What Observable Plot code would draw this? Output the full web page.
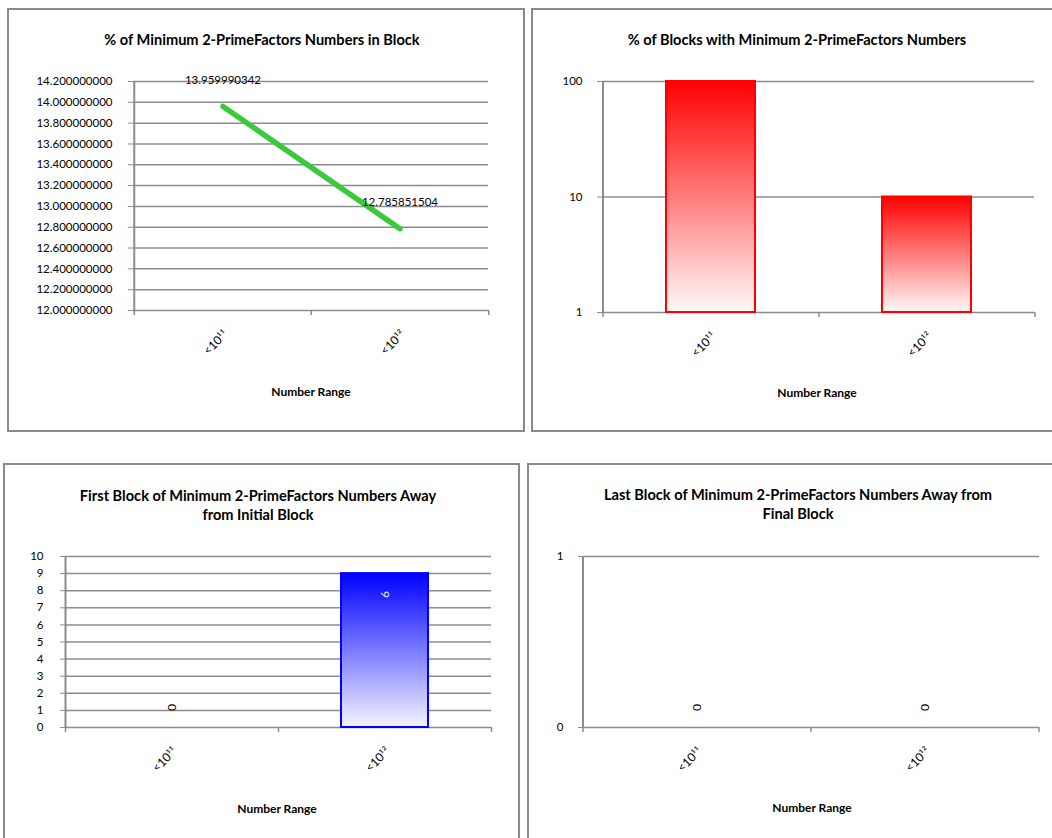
<!DOCTYPE html>
<html><head><meta charset="utf-8">
<script src="https://cdn.jsdelivr.net/npm/d3@7"></script>
<script src="https://cdn.jsdelivr.net/npm/@observablehq/plot@0.6"></script>
<style>
body{margin:0;background:#fff;font-family:Lato,"Open Sans",sans-serif;}
#root{position:relative;width:1052px;height:838px;overflow:hidden;background:#fff;}
.box{position:absolute;border:2.5px solid #8a8a8a;box-sizing:border-box;}
.title{position:absolute;font-weight:bold;font-size:14.6px;text-align:center;transform:translate(-50%,-50%);white-space:nowrap;line-height:19px;color:#000;}
.xlab{position:absolute;font-weight:bold;font-size:12px;transform:translate(-50%,-50%);white-space:nowrap;color:#000;}
.plot{position:absolute;}
</style></head><body><div id="root"></div>
<script>
// ---- data ----
const categories = ["<10¹¹", "<10¹²"];
const pctNumbersInBlock = [13.959990342, 12.785851504];
const pctBlocksWith = [100, 10];
const firstBlockAway = [0, 9];
const lastBlockAway = [0, 0];
const ticks1 = [12.0, 12.2, 12.4, 12.6, 12.8, 13.0, 13.2, 13.4, 13.6, 13.8, 14.0, 14.2];
const ticks2 = [1, 10, 100];
const ticks3 = [0, 1, 2, 3, 4, 5, 6, 7, 8, 9, 10];
const ticks4 = [0, 1];
const titles = [
  ["% of Minimum 2-PrimeFactors Numbers in Block"],
  ["% of Blocks with Minimum 2-PrimeFactors Numbers"],
  ["First Block of Minimum 2-PrimeFactors Numbers Away", "from Initial Block"],
  ["Last Block of Minimum 2-PrimeFactors Numbers Away from", "Final Block"]
];
const xTitle = "Number Range";

// ---- style ----
const GRID = "#8c8c8c";
const root = document.getElementById("root");

function box(l, t, w, h) {
  const d = document.createElement("div");
  d.className = "box";
  Object.assign(d.style, {left: l + "px", top: t + "px", width: w + "px", height: h + "px"});
  root.appendChild(d);
}
function label(cls, lines, cx, cy) {
  const d = document.createElement("div");
  d.className = cls;
  d.innerHTML = lines.join("<br>");
  Object.assign(d.style, {left: cx + "px", top: cy + "px"});
  root.appendChild(d);
}
function place(svg, l, t) {
  svg.classList.add("plot");
  svg.style.left = l + "px";
  svg.style.top = t + "px";
  root.appendChild(svg);
}
function addGradient(svg, id, color, end) {
  d3.select(svg).insert("defs", ":first-child").html(
    `<linearGradient id="${id}" x1="0" y1="0" x2="0" y2="1">
       <stop offset="0" stop-color="${color}"/>
       <stop offset="1" stop-color="${end}"/>
     </linearGradient>`);
}
const baseStyle = {fontFamily: "Lato, 'Open Sans', sans-serif", fontSize: "11.5px", color: "#000", background: "transparent", overflow: "visible"};

function frameMarks(bw, plotH) {
  return [
    Plot.tickX([categories[0]], {x: d => d, dx: -bw / 2, stroke: GRID, strokeWidth: 2}),
    Plot.tickX(categories, {x: d => d, dx: -bw / 2, insetTop: plotH, insetBottom: -5, stroke: GRID, strokeWidth: 1.5}),
    Plot.tickX([categories[categories.length - 1]], {x: d => d, dx: bw / 2, insetTop: plotH, insetBottom: -5, stroke: GRID, strokeWidth: 1.5})
  ];
}
function xAxis() {
  return Plot.axisX({tickRotate: -45, tickSize: 0, tickPadding: 22, dx: 3, label: null, fill: "#000", fontSize: 12});
}

// borders
box(7, 8, 518, 424);
box(531, 8, 540, 424);
box(3, 463, 517, 400);
box(527, 463, 540, 400);

// ---- Panel 1: line ----
{
  const W = 530, H = 440, ml = 133, mr = 42, mt = 81, mb = 130;
  const bw = (W - ml - mr) / categories.length, plotH = H - mt - mb;
  const data = categories.map((c, i) => ({cat: c, value: pctNumbersInBlock[i]}));
  const svg = Plot.plot({
    width: W, height: H, marginLeft: ml, marginRight: mr, marginTop: mt, marginBottom: mb,
    style: baseStyle,
    x: {type: "band", domain: categories, padding: 0},
    y: {domain: [12, 14.2]},
    marks: [
      Plot.ruleY(ticks1, {stroke: GRID, strokeWidth: 1.5}),
      ...frameMarks(bw, plotH),
      Plot.axisY({ticks: ticks1, tickFormat: d => d.toFixed(9), tickSize: 5, tickPadding: 16, stroke: GRID, fill: "#000", label: null}),
      xAxis(),
      Plot.line(data, {x: "cat", y: "value", stroke: "#3cc83c", strokeWidth: 5.5, strokeLinecap: "round"}),
      Plot.text(data, {x: "cat", y: "value", text: d => String(d.value), dy: -26, fontSize: 11.5, fill: "#000"})
    ]
  });
  place(svg, 0, 0);
  label("title", titles[0], 262, 39);
  label("xlab", [xTitle], 311, 391);
}

// ---- Panel 2: log bars ----
{
  const W = 522, H = 440, ml = 72, mr = 18, mt = 81, mb = 128;
  const bw = (W - ml - mr) / categories.length, plotH = H - mt - mb;
  const data = categories.map((c, i) => ({cat: c, value: pctBlocksWith[i]}));
  const svg = Plot.plot({
    width: W, height: H, marginLeft: ml, marginRight: mr, marginTop: mt, marginBottom: mb,
    style: baseStyle,
    x: {type: "band", domain: categories, paddingInner: 0.59, paddingOuter: 0.295},
    y: {type: "log", domain: [1, 100]},
    marks: [
      Plot.ruleY(ticks2, {stroke: GRID, strokeWidth: 1.5}),
      ...frameMarks(bw, plotH),
      Plot.axisY({ticks: ticks2, tickFormat: d => String(d), tickSize: 5, tickPadding: 15, stroke: GRID, fill: "#000", label: null}),
      xAxis(),
      Plot.barY(data, {x: "cat", y1: 1, y2: "value", fill: "url(#gradRed)", stroke: "#ff0000", strokeWidth: 2})
    ]
  });
  addGradient(svg, "gradRed", "#ff0000", "#fff8f8");
  place(svg, 530, 0);
  label("title", titles[1], 797, 39);
  label("xlab", [xTitle], 817, 392);
}

// ---- Panel 3: linear bars ----
{
  const W = 530, H = 398, ml = 65, mr = 39, mt = 116, mb = 111;
  const bw = (W - ml - mr) / categories.length, plotH = H - mt - mb;
  const data = categories.map((c, i) => ({cat: c, value: firstBlockAway[i]}));
  const svg = Plot.plot({
    width: W, height: H, marginLeft: ml, marginRight: mr, marginTop: mt, marginBottom: mb,
    style: baseStyle,
    x: {type: "band", domain: categories, paddingInner: 0.59, paddingOuter: 0.295},
    y: {domain: [0, 10]},
    marks: [
      Plot.ruleY(ticks3, {stroke: GRID, strokeWidth: 1.5}),
      ...frameMarks(bw, plotH),
      Plot.axisY({ticks: ticks3, tickFormat: d => String(d), tickSize: 5, tickPadding: 17, stroke: GRID, fill: "#000", label: null}),
      xAxis(),
      Plot.barY(data, {filter: d => d.value > 0, x: "cat", y: "value", fill: "url(#gradBlue)", stroke: "#0000ff", strokeWidth: 2}),
      Plot.text(data, {filter: d => d.value > 0, x: "cat", y: "value", text: d => String(d.value), rotate: 90, dy: 21, fill: "#e8e8ff", fontSize: 12}),
      Plot.text(data, {filter: d => d.value === 0, x: "cat", y: "value", text: d => String(d.value), rotate: 90, dy: -20, fill: "#000", fontSize: 12})
    ]
  });
  addGradient(svg, "gradBlue", "#0000ff", "#f4f4ff");
  place(svg, 0, 440);
  label("title", titles[2], 258, 504.5);
  label("xlab", [xTitle], 277, 808);
}

// ---- Panel 4: empty bars ----
{
  const W = 522, H = 398, ml = 53, mr = 13, mt = 116, mb = 111;
  const bw = (W - ml - mr) / categories.length, plotH = H - mt - mb;
  const data = categories.map((c, i) => ({cat: c, value: lastBlockAway[i]}));
  const svg = Plot.plot({
    width: W, height: H, marginLeft: ml, marginRight: mr, marginTop: mt, marginBottom: mb,
    style: baseStyle,
    x: {type: "band", domain: categories, paddingInner: 0.59, paddingOuter: 0.295},
    y: {domain: [0, 1]},
    marks: [
      Plot.ruleY(ticks4, {stroke: GRID, strokeWidth: 1.5}),
      ...frameMarks(bw, plotH),
      Plot.axisY({ticks: ticks4, tickFormat: d => String(d), tickSize: 5, tickPadding: 15, stroke: GRID, fill: "#000", label: null}),
      xAxis(),
      Plot.barY(data, {filter: d => d.value > 0, x: "cat", y: "value", fill: "#888"}),
      Plot.text(data, {x: "cat", y: "value", text: d => String(d.value), rotate: 90, dy: -20, fill: "#000", fontSize: 12})
    ]
  });
  place(svg, 530, 440);
  label("title", titles[3], 798, 504);
  label("xlab", [xTitle], 812, 807);
}
</script>
</body></html>
